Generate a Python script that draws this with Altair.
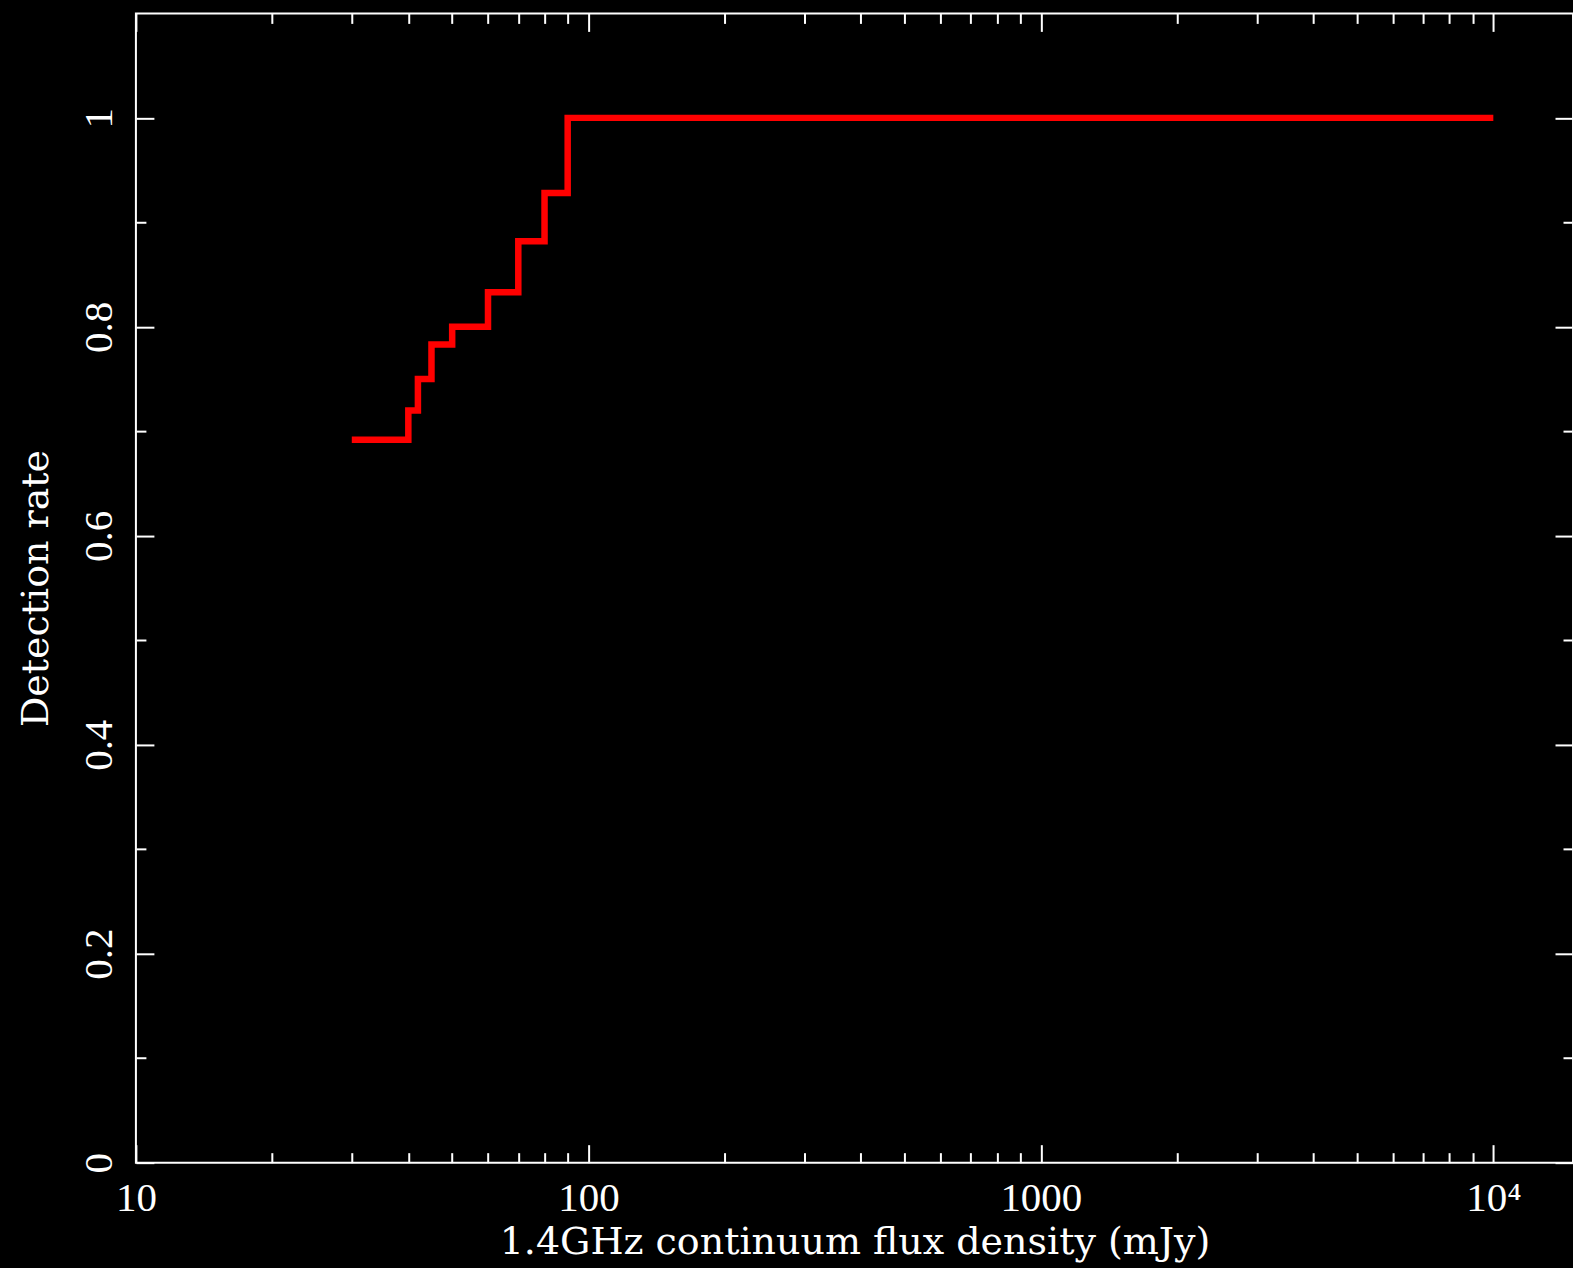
import altair as alt
import pandas as pd

# Detection rate versus 1.4 GHz continuum flux density (step curve)
flux_mjy = [30, 40, 42, 45, 50, 60, 70, 80, 90, 10000]
detection_rate = [0.692, 0.720, 0.750, 0.783, 0.800, 0.833, 0.882, 0.928, 1.000, 1.000]

# Axis ticks and labels
x_major_ticks = [10, 100, 1000, 10000]
x_major_labels = ["10", "100", "1000", "10⁴"]
x_minor_ticks = [20, 30, 40, 50, 60, 70, 80, 90,
                 200, 300, 400, 500, 600, 700, 800, 900,
                 2000, 3000, 4000, 5000, 6000, 7000, 8000, 9000]
y_major_ticks = [0, 0.2, 0.4, 0.6, 0.8, 1.0]
y_major_labels = ["0", "0.2", "0.4", "0.6", "0.8", "1"]
y_minor_ticks = [0.1, 0.3, 0.5, 0.7, 0.9]

x_domain = [10, 15000]
y_domain = [0, 1.1]

df = pd.DataFrame({"flux": flux_mjy, "rate": detection_rate})

W, H = 1438, 1150
LABEL_FONT = "Liberation Serif"
TITLE_FONT = "DejaVu Serif"
INK = "#ffffff"
LINE = "#ff0000"


def label_expr(values, labels):
    expr = "''"
    for v, lab in reversed(list(zip(values, labels))):
        expr = f"datum.value == {v} ? '{lab}' : {expr}"
    return expr


x_scale = alt.Scale(type="log", domain=x_domain, nice=False)
y_scale = alt.Scale(domain=y_domain, nice=False, zero=False)

x_label_axis = alt.Axis(
    orient="bottom", values=x_major_ticks,
    labelExpr=label_expr(x_major_ticks, x_major_labels),
    ticks=False, tickSize=0, domain=False, grid=False,
    labelFont=LABEL_FONT, labelFontSize=41, labelColor=INK,
    labelPadding=48, labelBaseline="alphabetic",
    labelFlush=False, labelOverlap=False,
    title="1.4GHz continuum flux density (mJy)",
    titleFont=TITLE_FONT, titleFontSize=38, titleFontWeight="normal",
    titleColor=INK, titleBaseline="alphabetic", titleY=91,
)

y_label_axis = alt.Axis(
    orient="left", values=y_major_ticks,
    labelExpr=label_expr(y_major_ticks, y_major_labels),
    ticks=False, tickSize=0, domain=False, grid=False,
    labelFont=LABEL_FONT, labelFontSize=41, labelColor=INK,
    labelAngle=270, labelAlign="center", labelBaseline="alphabetic",
    labelPadding=24, labelFlush=False, labelOverlap=False,
    title="Detection rate",
    titleFont=TITLE_FONT, titleFontSize=38, titleFontWeight="normal",
    titleColor=INK, titleAngle=270, titleAlign="center",
    titleBaseline="alphabetic", titleX=-88, titleY=H / 2,
)


def tick_axis(orient, offset, values, size):
    # Tick-only axis; a negative offset moves it to the opposite frame edge
    # so that its ticks point into the plot.
    return alt.Axis(
        orient=orient, offset=offset, values=values,
        tickSize=size, tickWidth=2, tickColor=INK,
        labels=False, domain=False, grid=False, title=None,
        minExtent=0, maxExtent=0,
    )


step = alt.Chart(df).mark_line(
    color=LINE, strokeWidth=6.5, interpolate="step-after", strokeCap="butt"
).encode(
    x=alt.X("flux:Q", scale=x_scale, axis=x_label_axis),
    y=alt.Y("rate:Q", scale=y_scale, axis=y_label_axis),
)


def frame_ticks(x_axis, y_axis):
    return alt.Chart(df).mark_line(strokeOpacity=0, interpolate="step-after").encode(
        x=alt.X("flux:Q", scale=x_scale, axis=x_axis),
        y=alt.Y("rate:Q", scale=y_scale, axis=y_axis),
    )


tick_layers = [
    # bottom and left edges
    frame_ticks(tick_axis("top", -H, x_major_ticks, 18), tick_axis("right", -W, y_major_ticks, 18)),
    frame_ticks(tick_axis("top", -H, x_minor_ticks, 10), tick_axis("right", -W, y_minor_ticks, 10)),
    # top and right edges
    frame_ticks(tick_axis("bottom", -H, x_major_ticks, 18), tick_axis("left", -W, y_major_ticks, 18)),
    frame_ticks(tick_axis("bottom", -H, x_minor_ticks, 10), tick_axis("left", -W, y_minor_ticks, 10)),
]

chart = (
    alt.layer(*tick_layers, step)
    .resolve_axis(x="independent", y="independent")
    .properties(
        width=W,
        height=H,
        autosize=alt.AutoSizeParams(type="none"),
        padding={"left": 136, "top": 13, "right": 0, "bottom": 105},
        background="#000000",
    )
    .configure_view(stroke=INK, strokeWidth=2)
)

chart.save("out.html", embed_options={"renderer": "svg", "actions": False})
